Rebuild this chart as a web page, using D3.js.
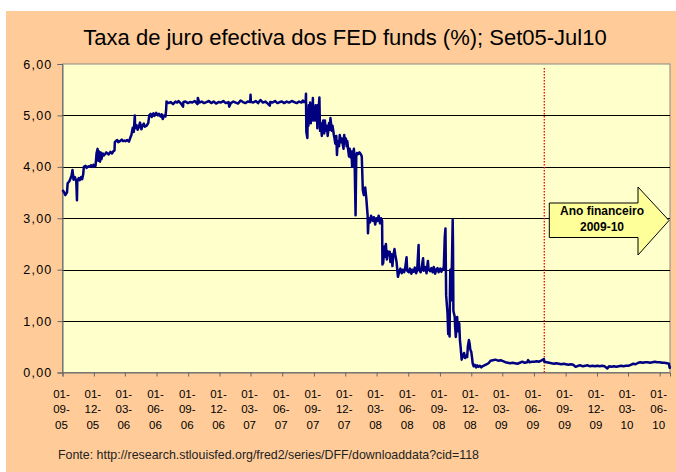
<!DOCTYPE html>
<html>
<head>
<meta charset="utf-8">
<script src="https://cdn.jsdelivr.net/npm/d3@7"></script>
<style>
  body { margin: 0; background: #fff; }
  text { font-family: "Liberation Sans", Arial, sans-serif; }
</style>
</head>
<body>
<div class="chart"></div>
<script>
// Effective FED funds rate (%), by year
var fed2005 = [
  ["2005-09-01", 3.55], ["2005-09-06", 3.50], ["2005-09-09", 3.45], ["2005-09-14", 3.50],
  ["2005-09-16", 3.68], ["2005-09-21", 3.72], ["2005-09-27", 3.82], ["2005-09-30", 3.94],
  ["2005-10-03", 3.75], ["2005-10-07", 3.80], ["2005-10-11", 3.72], ["2005-10-13", 3.35],
  ["2005-10-14", 3.72], ["2005-10-18", 3.78], ["2005-10-21", 3.74], ["2005-10-25", 3.80],
  ["2005-10-28", 3.76], ["2005-10-31", 3.85], ["2005-11-02", 4.00], ["2005-11-07", 4.02],
  ["2005-11-10", 3.98], ["2005-11-15", 4.01], ["2005-11-18", 4.00], ["2005-11-23", 4.03],
  ["2005-11-28", 4.00], ["2005-11-30", 4.04], ["2005-12-02", 4.00], ["2005-12-06", 4.02],
  ["2005-12-09", 4.27], ["2005-12-12", 4.35], ["2005-12-14", 4.12], ["2005-12-16", 4.30],
  ["2005-12-19", 4.10], ["2005-12-21", 4.28], ["2005-12-23", 4.15], ["2005-12-27", 4.26],
  ["2005-12-30", 4.22]
];

var fed2006 = [
  ["2006-01-03", 4.25], ["2006-01-06", 4.28], ["2006-01-10", 4.26], ["2006-01-13", 4.24],
  ["2006-01-18", 4.29], ["2006-01-23", 4.26], ["2006-01-26", 4.30], ["2006-01-30", 4.32],
  ["2006-01-31", 4.48], ["2006-02-03", 4.50], ["2006-02-07", 4.52], ["2006-02-10", 4.48],
  ["2006-02-15", 4.50], ["2006-02-20", 4.53], ["2006-02-24", 4.50], ["2006-02-28", 4.51],
  ["2006-03-03", 4.50], ["2006-03-08", 4.52], ["2006-03-13", 4.49], ["2006-03-16", 4.55],
  ["2006-03-20", 4.62], ["2006-03-24", 4.76], ["2006-03-27", 4.68], ["2006-03-30", 5.00],
  ["2006-03-31", 4.75], ["2006-04-04", 4.81], ["2006-04-07", 4.72], ["2006-04-11", 4.78],
  ["2006-04-14", 4.86], ["2006-04-18", 4.73], ["2006-04-21", 4.80], ["2006-04-25", 4.84],
  ["2006-04-28", 4.78], ["2006-05-03", 4.80], ["2006-05-08", 4.85], ["2006-05-11", 5.00],
  ["2006-05-15", 5.03], ["2006-05-18", 4.97], ["2006-05-23", 5.04], ["2006-05-26", 4.99],
  ["2006-05-31", 5.05], ["2006-06-05", 5.00], ["2006-06-08", 5.03], ["2006-06-13", 4.98],
  ["2006-06-16", 5.02], ["2006-06-19", 4.93], ["2006-06-23", 5.00], ["2006-06-27", 4.98],
  ["2006-06-29", 5.12], ["2006-06-30", 5.27], ["2006-07-05", 5.24], ["2006-07-12", 5.26],
  ["2006-07-19", 5.22], ["2006-07-26", 5.27], ["2006-07-31", 5.25], ["2006-08-04", 5.28],
  ["2006-08-10", 5.24], ["2006-08-17", 5.17], ["2006-08-18", 5.26], ["2006-08-24", 5.27],
  ["2006-08-31", 5.24], ["2006-09-06", 5.26], ["2006-09-13", 5.25], ["2006-09-20", 5.28],
  ["2006-09-28", 5.22], ["2006-09-29", 5.34], ["2006-10-03", 5.25], ["2006-10-10", 5.27],
  ["2006-10-17", 5.24], ["2006-10-24", 5.26], ["2006-10-31", 5.28], ["2006-11-07", 5.24],
  ["2006-11-14", 5.27], ["2006-11-21", 5.23], ["2006-11-28", 5.26], ["2006-12-05", 5.25],
  ["2006-12-12", 5.28], ["2006-12-19", 5.24], ["2006-12-27", 5.26], ["2006-12-29", 5.17]
];

var fed2007 = [
  ["2007-01-03", 5.24], ["2007-01-10", 5.27], ["2007-01-17", 5.25], ["2007-01-24", 5.23],
  ["2007-01-31", 5.29], ["2007-02-07", 5.26], ["2007-02-14", 5.24], ["2007-02-21", 5.27],
  ["2007-02-28", 5.26], ["2007-03-01", 5.40], ["2007-03-02", 5.27], ["2007-03-09", 5.25],
  ["2007-03-16", 5.28], ["2007-03-23", 5.24], ["2007-03-30", 5.30], ["2007-04-06", 5.25],
  ["2007-04-13", 5.27], ["2007-04-20", 5.23], ["2007-04-26", 5.19], ["2007-04-27", 5.26],
  ["2007-05-04", 5.25], ["2007-05-11", 5.28], ["2007-05-18", 5.24], ["2007-05-25", 5.26],
  ["2007-05-31", 5.27], ["2007-06-07", 5.24], ["2007-06-14", 5.27], ["2007-06-21", 5.25],
  ["2007-06-29", 5.28], ["2007-07-06", 5.26], ["2007-07-13", 5.24], ["2007-07-20", 5.27],
  ["2007-07-27", 5.25], ["2007-07-31", 5.29], ["2007-08-03", 5.26], ["2007-08-08", 5.27],
  ["2007-08-09", 5.42], ["2007-08-10", 4.68], ["2007-08-13", 4.56], ["2007-08-14", 5.00],
  ["2007-08-15", 5.10], ["2007-08-16", 4.80], ["2007-08-17", 5.20], ["2007-08-20", 4.95],
  ["2007-08-21", 5.25], ["2007-08-22", 5.05], ["2007-08-23", 4.85], ["2007-08-24", 5.15],
  ["2007-08-27", 5.00], ["2007-08-29", 5.34], ["2007-08-30", 4.90], ["2007-08-31", 5.10],
  ["2007-09-04", 5.15], ["2007-09-05", 4.90], ["2007-09-06", 5.20], ["2007-09-07", 4.95],
  ["2007-09-10", 5.10], ["2007-09-11", 4.75], ["2007-09-12", 5.20], ["2007-09-14", 5.05],
  ["2007-09-17", 5.35], ["2007-09-18", 4.95], ["2007-09-19", 4.70], ["2007-09-21", 4.85],
  ["2007-09-24", 4.60], ["2007-09-26", 4.80], ["2007-09-28", 4.90], ["2007-10-01", 4.65],
  ["2007-10-03", 4.90], ["2007-10-05", 4.70], ["2007-10-09", 4.80], ["2007-10-11", 4.60],
  ["2007-10-15", 4.85], ["2007-10-17", 4.72], ["2007-10-19", 4.95], ["2007-10-23", 4.70],
  ["2007-10-25", 4.80], ["2007-10-29", 4.62], ["2007-10-31", 4.55], ["2007-11-02", 4.45],
  ["2007-11-05", 4.60], ["2007-11-07", 4.23], ["2007-11-09", 4.50], ["2007-11-13", 4.40],
  ["2007-11-15", 4.62], ["2007-11-19", 4.48], ["2007-11-21", 4.55], ["2007-11-26", 4.35],
  ["2007-11-28", 4.62], ["2007-11-30", 4.50], ["2007-12-03", 4.55], ["2007-12-05", 4.40],
  ["2007-12-07", 4.50], ["2007-12-10", 4.30], ["2007-12-12", 4.20], ["2007-12-14", 4.35],
  ["2007-12-17", 4.18], ["2007-12-19", 4.30], ["2007-12-21", 4.00], ["2007-12-24", 4.25],
  ["2007-12-26", 4.35], ["2007-12-28", 4.20], ["2007-12-31", 3.06]
];

var fed2008 = [
  ["2008-01-02", 4.20], ["2008-01-04", 4.27], ["2008-01-08", 4.25], ["2008-01-11", 4.28],
  ["2008-01-15", 4.25], ["2008-01-18", 4.20], ["2008-01-21", 3.55], ["2008-01-24", 3.45],
  ["2008-01-28", 3.60], ["2008-01-31", 3.40], ["2008-02-04", 3.05], ["2008-02-05", 2.71],
  ["2008-02-07", 3.00], ["2008-02-11", 2.92], ["2008-02-14", 3.05], ["2008-02-19", 2.95],
  ["2008-02-22", 3.02], ["2008-02-26", 2.88], ["2008-02-29", 3.00], ["2008-03-04", 2.95],
  ["2008-03-07", 3.05], ["2008-03-11", 2.90], ["2008-03-14", 3.00], ["2008-03-17", 2.95],
  ["2008-03-18", 2.10], ["2008-03-19", 2.30], ["2008-03-20", 2.12], ["2008-03-24", 2.45],
  ["2008-03-26", 2.25], ["2008-03-28", 2.50], ["2008-03-31", 2.20], ["2008-04-02", 2.36],
  ["2008-04-04", 2.28], ["2008-04-08", 2.35], ["2008-04-10", 2.15], ["2008-04-14", 2.30],
  ["2008-04-16", 2.07], ["2008-04-18", 2.25], ["2008-04-22", 2.40], ["2008-04-24", 2.30],
  ["2008-04-28", 2.15], ["2008-05-02", 1.86], ["2008-05-06", 1.97], ["2008-05-09", 2.02],
  ["2008-05-13", 1.93], ["2008-05-16", 2.00], ["2008-05-20", 1.95], ["2008-05-23", 2.03],
  ["2008-05-27", 2.24], ["2008-05-29", 1.98], ["2008-06-03", 1.95], ["2008-06-06", 2.02],
  ["2008-06-10", 1.92], ["2008-06-13", 2.00], ["2008-06-17", 1.96], ["2008-06-20", 2.04],
  ["2008-06-24", 1.93], ["2008-06-27", 2.00], ["2008-07-01", 2.48], ["2008-07-02", 2.00],
  ["2008-07-07", 1.95], ["2008-07-10", 2.05], ["2008-07-14", 2.22], ["2008-07-16", 1.98],
  ["2008-07-21", 2.05], ["2008-07-24", 1.93], ["2008-07-28", 2.17], ["2008-07-30", 2.00],
  ["2008-08-04", 1.97], ["2008-08-07", 2.03], ["2008-08-11", 1.95], ["2008-08-14", 2.05],
  ["2008-08-18", 1.92], ["2008-08-21", 2.00], ["2008-08-25", 2.03], ["2008-08-28", 1.95],
  ["2008-09-02", 2.02], ["2008-09-05", 1.96], ["2008-09-09", 2.02], ["2008-09-12", 2.00],
  ["2008-09-15", 2.64], ["2008-09-17", 2.80], ["2008-09-19", 1.50], ["2008-09-23", 1.15],
  ["2008-09-25", 0.75], ["2008-09-26", 1.05], ["2008-09-29", 0.70], ["2008-09-30", 1.55],
  ["2008-10-01", 2.00], ["2008-10-03", 1.40], ["2008-10-06", 2.20], ["2008-10-08", 2.97],
  ["2008-10-09", 2.40], ["2008-10-10", 1.20], ["2008-10-14", 1.08], ["2008-10-15", 0.90],
  ["2008-10-17", 0.69], ["2008-10-20", 1.00], ["2008-10-21", 1.08], ["2008-10-23", 0.80],
  ["2008-10-27", 0.96], ["2008-10-29", 0.63], ["2008-10-31", 0.50], ["2008-11-03", 0.25],
  ["2008-11-05", 0.35], ["2008-11-07", 0.30], ["2008-11-10", 0.38], ["2008-11-13", 0.28],
  ["2008-11-17", 0.33], ["2008-11-19", 0.30], ["2008-11-21", 0.50], ["2008-11-24", 0.63],
  ["2008-11-26", 0.57], ["2008-11-28", 0.45], ["2008-12-01", 0.40], ["2008-12-03", 0.30],
  ["2008-12-05", 0.18], ["2008-12-08", 0.12], ["2008-12-11", 0.15], ["2008-12-15", 0.10],
  ["2008-12-18", 0.14], ["2008-12-22", 0.11], ["2008-12-26", 0.13], ["2008-12-30", 0.10]
];

var fed2009 = [
  ["2009-01-02", 0.12], ["2009-01-08", 0.14], ["2009-01-14", 0.16], ["2009-01-20", 0.18],
  ["2009-01-26", 0.23], ["2009-02-02", 0.24], ["2009-02-09", 0.25], ["2009-02-17", 0.23],
  ["2009-02-24", 0.24], ["2009-03-03", 0.22], ["2009-03-10", 0.20], ["2009-03-17", 0.19],
  ["2009-03-24", 0.18], ["2009-03-31", 0.19], ["2009-04-07", 0.18], ["2009-04-14", 0.17],
  ["2009-04-21", 0.19], ["2009-04-28", 0.21], ["2009-05-05", 0.19], ["2009-05-12", 0.20],
  ["2009-05-15", 0.24], ["2009-05-19", 0.20], ["2009-05-26", 0.21], ["2009-06-02", 0.21],
  ["2009-06-09", 0.22], ["2009-06-16", 0.21], ["2009-06-22", 0.23], ["2009-06-30", 0.26],
  ["2009-07-01", 0.21], ["2009-07-08", 0.20], ["2009-07-15", 0.19], ["2009-07-22", 0.18],
  ["2009-07-29", 0.17], ["2009-08-05", 0.18], ["2009-08-12", 0.17], ["2009-08-19", 0.16],
  ["2009-08-26", 0.17], ["2009-09-02", 0.16], ["2009-09-09", 0.15], ["2009-09-16", 0.16],
  ["2009-09-23", 0.15], ["2009-09-30", 0.11], ["2009-10-07", 0.13], ["2009-10-14", 0.14],
  ["2009-10-21", 0.12], ["2009-10-28", 0.13], ["2009-11-04", 0.14], ["2009-11-11", 0.12],
  ["2009-11-18", 0.13], ["2009-11-25", 0.12], ["2009-12-02", 0.13], ["2009-12-09", 0.12],
  ["2009-12-16", 0.13], ["2009-12-23", 0.12], ["2009-12-31", 0.08]
];

var fed2010 = [
  ["2010-01-05", 0.12], ["2010-01-12", 0.11], ["2010-01-19", 0.12], ["2010-01-26", 0.11],
  ["2010-02-02", 0.12], ["2010-02-09", 0.13], ["2010-02-16", 0.12], ["2010-02-23", 0.13],
  ["2010-03-02", 0.13], ["2010-03-09", 0.15], ["2010-03-16", 0.17], ["2010-03-23", 0.16],
  ["2010-03-31", 0.19], ["2010-04-06", 0.20], ["2010-04-13", 0.19], ["2010-04-20", 0.20],
  ["2010-04-27", 0.20], ["2010-05-04", 0.19], ["2010-05-11", 0.20], ["2010-05-18", 0.21],
  ["2010-05-25", 0.20], ["2010-06-01", 0.20], ["2010-06-08", 0.19], ["2010-06-15", 0.19],
  ["2010-06-22", 0.18], ["2010-06-28", 0.17], ["2010-06-30", 0.09], ["2010-07-01", 0.12]
];

// quarterly category ticks on the x axis
var xTickDates = [
  "2005-09-01", "2005-12-01", "2006-03-01", "2006-06-01", "2006-09-01",
  "2006-12-01", "2007-03-01", "2007-06-01", "2007-09-01", "2007-12-01",
  "2008-03-01", "2008-06-01", "2008-09-01", "2008-12-01", "2009-03-01",
  "2009-06-01", "2009-09-01", "2009-12-01", "2010-03-01", "2010-06-01"
];
var yTicks = [0, 1, 2, 3, 4, 5, 6];

var fiscalYearStart = "2009-07-01";
var fiscalLabel = ["Ano financeiro", "2009-10"];

var titleText = "Taxa de juro efectiva dos FED funds (%); Set05-Jul10";
var sourceText = "Fonte: http://research.stlouisfed.org/fred2/series/DFF/downloaddata?cid=118";

// Section 1: setup
var svgWidth = 676;
var svgHeight = 472;

var plot = { left: 62.5, right: 670, top: 64, bottom: 372.5 };

var parseDate = d3.utcParse("%Y-%m-%d");

var fedData = fed2005.concat(fed2006, fed2007, fed2008, fed2009, fed2010).map(function (d) {
  return { date: parseDate(d[0]), rate: d[1] };
});

var svg = d3
  .select(".chart")
  .append("svg")
  .attr("width", svgWidth)
  .attr("height", svgHeight);

// orange chart area
svg.append("rect")
  .attr("x", 6)
  .attr("y", 11)
  .attr("width", svgWidth - 6)
  .attr("height", svgHeight - 11)
  .attr("fill", "#FFCC99");

// scales
var xScale = d3
  .scaleUtc()
  .domain([parseDate("2005-09-01"), d3.max(fedData, (d) => d.date)])
  .range([plot.left, plot.right]);

var yScale = d3
  .scaleLinear()
  .domain([0, 6])
  .range([plot.bottom, plot.top]);

// plot area background
svg.append("rect")
  .attr("x", plot.left)
  .attr("y", plot.top)
  .attr("width", plot.right - plot.left)
  .attr("height", plot.bottom - plot.top)
  .attr("fill", "#FFFFCC")
  .attr("stroke", "#888")
  .attr("stroke-width", 1);

// gridlines
svg.append("g")
  .selectAll("line")
  .data(yTicks.filter((v) => v > 0 && v < 6))
  .enter()
  .append("line")
  .attr("x1", plot.left)
  .attr("x2", plot.right)
  .attr("y1", (d) => Math.round(yScale(d)) + 0.5)
  .attr("y2", (d) => Math.round(yScale(d)) + 0.5)
  .attr("stroke", "#000")
  .attr("stroke-width", 1);

// y axis
var leftAxis = d3
  .axisLeft(yScale)
  .tickValues(yTicks)
  .tickSize(5)
  .tickPadding(5)
  .tickFormat((d) => d3.format(".2f")(d).replace(".", ","));

var yAxis = svg.append("g")
  .attr("transform", `translate(${plot.left}, 0)`)
  .call(leftAxis);
yAxis.select(".domain").attr("stroke", "#666");
yAxis.selectAll(".tick line").attr("stroke", "#666");
yAxis.selectAll(".tick text")
  .attr("font-size", "12.5px")
  .attr("fill", "#000")
  .attr("letter-spacing", "1.2px")
  .attr("font-family", "Liberation Sans, Arial, sans-serif");

// x axis
var bottomAxis = d3
  .axisBottom(xScale)
  .tickValues(xTickDates.map(parseDate))
  .tickSize(4)
  .tickFormat("");

var xAxis = svg.append("g")
  .attr("transform", `translate(0, ${plot.bottom})`)
  .call(bottomAxis);
xAxis.select(".domain").attr("stroke", "#666");
xAxis.selectAll(".tick line").attr("stroke", "#666");

var fmtDay = d3.utcFormat("%d"), fmtMonth = d3.utcFormat("%m"), fmtYear = d3.utcFormat("%y");

var xLabels = svg.append("g")
  .selectAll("text")
  .data(xTickDates.map(parseDate))
  .enter()
  .append("text")
  .attr("text-anchor", "middle")
  .attr("font-size", "11.5px")
  .attr("fill", "#000");

xLabels.append("tspan").attr("x", (d) => xScale(d) - 1).attr("y", 397.5).text((d) => fmtDay(d) + "-");
xLabels.append("tspan").attr("x", (d) => xScale(d) - 1).attr("y", 413).text((d) => fmtMonth(d) + "-");
xLabels.append("tspan").attr("x", (d) => xScale(d) - 1).attr("y", 428.5).text((d) => fmtYear(d));

// fiscal year marker
var fyX = xScale(parseDate(fiscalYearStart));
svg.append("line")
  .attr("x1", fyX)
  .attr("x2", fyX)
  .attr("y1", 68)
  .attr("y2", plot.bottom)
  .attr("stroke", "#FF0000")
  .attr("stroke-width", 1.3)
  .attr("stroke-dasharray", "1.5,1.5");

// the rate line
var rateLine = d3.line()
  .x((d) => xScale(d.date))
  .y((d) => yScale(d.rate));

svg.append("path")
  .datum(fedData)
  .attr("d", rateLine)
  .attr("fill", "none")
  .attr("stroke", "#000080")
  .attr("stroke-width", 2.5)
  .attr("stroke-linejoin", "round");

// block arrow annotation
var arrowLeft = fyX + 5, arrowTip = plot.right - 1, headX = 638;
var arrowPts = [
  [arrowLeft, 203], [headX, 203], [headX, 187], [arrowTip, 220.5],
  [headX, 255], [headX, 237.5], [arrowLeft, 237.5]
];
svg.append("polygon")
  .attr("points", arrowPts.map((p) => p.join(",")).join(" "))
  .attr("fill", "#FFFF99")
  .attr("stroke", "#000")
  .attr("stroke-width", 1);

svg.append("g")
  .selectAll("text")
  .data(fiscalLabel)
  .enter()
  .append("text")
  .attr("x", 602)
  .attr("y", (d, i) => 215 + i * 15.5)
  .attr("text-anchor", "middle")
  .attr("font-size", "12px")
  .attr("font-weight", "bold")
  .attr("fill", "#000")
  .text((d) => d);

// title and source
svg.append("text")
  .attr("x", 345)
  .attr("y", 45)
  .attr("text-anchor", "middle")
  .attr("font-size", "22px")
  .attr("fill", "#000")
  .text(titleText);

svg.append("text")
  .attr("x", 58)
  .attr("y", 459)
  .attr("font-size", "12.4px")
  .attr("fill", "#222")
  .text(sourceText);
</script>
</body>
</html>
